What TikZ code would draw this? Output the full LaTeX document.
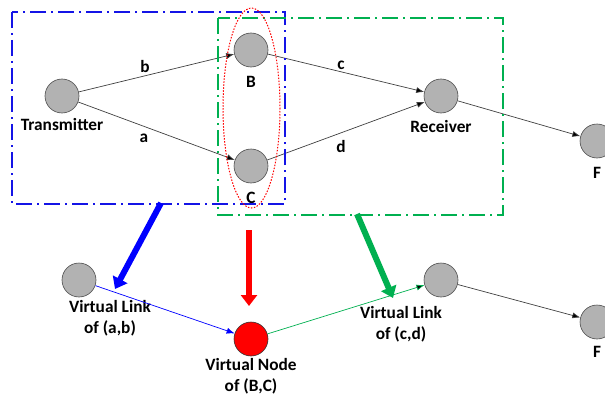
\documentclass[tikz,border=0pt]{standalone}
\usepackage{fontspec}
\setmainfont{Carlito}
\usetikzlibrary{positioning,arrows.meta,calc}

\definecolor{nodegray}{RGB}{178,178,178}
\definecolor{boxblue}{RGB}{20,20,230}
\definecolor{boxgreen}{RGB}{0,176,80}

\tikzset{
  vert/.style={circle,draw=black!70,fill=nodegray,line width=0.6pt,
    minimum size=34pt,inner sep=0pt},
  vnode/.style={vert,fill=red,draw=black!80},
  lbl/.style={font=\fontsize{17.3}{21}\selectfont\bfseries,anchor=base,
    inner sep=0pt,align=center},
  link/.style={draw=black!75,line width=0.7pt,-{Latex[length=8pt,width=6pt]}},
  fat/.style={line width=6pt,-{Triangle[length=11pt,width=16pt]}},
  box/.style={line width=1.6pt,dash pattern=on 16pt off 5pt on 2pt off 5pt}
}

\begin{document}
\begin{tikzpicture}[x=1pt,y=-1pt]

  \useasboundingbox (0,0) rectangle (605,396);
  \clip (0,0) rectangle (605,396);

  % the original network
  \node[vert] (tx) at (62,96) {};
  \node[vert] (b) at (251,50) {};
  \node[vert] (c) at (251,166) {};
  \node[vert] (rx) at (441,96) {};
  \node[vert] (f) at (597,141) {};

  \node[lbl] (txl) at (62,130) {Transmitter};
  \node[lbl] (bl) at (251,88) {B};
  \node[lbl] (cl) at (251,203) {C};
  \node[lbl] (rxl) at (441,132) {Receiver};
  \node[lbl] (fl) at (597,178) {F};

  \path[link] (tx) edge (b);
  \path[link] (tx) edge (c);
  \path[link] (b) edge (rx);
  \path[link] (c) edge (rx);
  \path[link] (rx) edge (f);

  \node[lbl] (lb) at (145,73) {b};
  \node[lbl] (la) at (144,142) {a};
  \node[lbl] (lc) at (341,70) {c};
  \node[lbl] (ld) at (341,152) {d};

  % groupings
  \draw[box,boxblue] (12,12) rectangle (285,204);
  \draw[box,boxgreen] (218,18) rectangle (503,215);
  \draw[red,line width=1pt,dash pattern=on 1.5pt off 1.5pt]
    (251.5,108) ellipse [x radius=28.5,y radius=100];

  % the virtual network
  \node[vert] (vl) at (79,280) {};
  \node[vnode] (vn) at (251,339) {};
  \node[vert] (vrx) at (441,280) {};
  \node[vert] (vf) at (597,322) {};

  % base of a two-line label = baseline of its last line
  \node[lbl] (vll) at (110,333) {Virtual Link\\of (a,b)};
  \node[lbl] (vnl) at (251,391) {Virtual Node\\of (B,C)};
  \node[lbl] (vrl) at (401,339) {Virtual Link\\of (c,d)};
  \node[lbl] (vfl) at (597,357) {F};

  \path[link,draw=blue,-{Latex[length=8pt,width=6pt,fill=blue]}] (vl) edge (vn);
  \path[link,draw=boxgreen] (vn) edge (vrx);
  \path[link] (vrx) edge (vf);

  % mapping arrows
  \coordinate (m1) at (161,203);
  \coordinate (m2) at (115,289);
  \coordinate (m3) at (249,230);
  \coordinate (m4) at (249,306);
  \coordinate (m5) at (357,214);
  \coordinate (m6) at (393,298);
  \draw[fat,blue] (m1) -- (m2);
  \draw[fat,red] (m3) -- (m4);
  \draw[fat,boxgreen] (m5) -- (m6);

\end{tikzpicture}
\end{document}
